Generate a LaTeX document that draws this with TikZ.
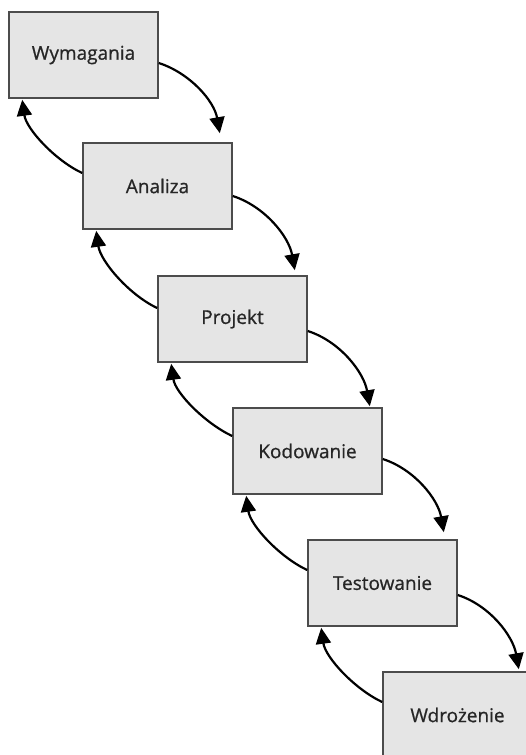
\documentclass[tikz,border=0pt]{standalone}
\usepackage{fontspec}
\newfontfamily\phasefont[FakeBold=0.8]{Open Sans}
\usetikzlibrary{arrows.meta}

\begin{document}
\begin{tikzpicture}[x=1pt,y=1pt]
\tikzset{phase/.style = {shape=rectangle,draw=black!70,fill=black!10,line width=1.6pt,
  minimum width=149pt,minimum height=86pt,inner sep=0pt,text=black!85,font=\phasefont\fontsize{19}{21}\selectfont}}
\tikzset{fwd/.style = {-{Triangle[length=16pt,width=15pt]},line width=2.2pt}}
\tikzset{back/.style = {fwd}}
\useasboundingbox (0,0) rectangle (526,-755);
\clip (0,0) rectangle (526,-755);
\node[phase] (w) at (83.5,-55)  {Wymagania};
\node[phase] (a) at (157.5,-186) {Analiza};
\node[phase] (p) at (232.5,-319) {Projekt};
\node[phase] (k) at (307.5,-451) {Kodowanie};
\node[phase] (t) at (382.5,-583) {Testowanie};
\node[phase] (d) at (457.5,-715) {Wdrożenie};

% kolejne etapy
\draw[fwd] ([yshift=-8pt]w.east) to[out=-18,in=100,looseness=0.9] ([xshift=-13pt,yshift=9pt]a.north east);
\draw[fwd] ([yshift=-10pt]a.east) to[out=-18,in=100,looseness=0.9] ([xshift=-13pt,yshift=5pt]p.north east);
\draw[fwd] ([yshift=-12pt]p.east) to[out=-18,in=100,looseness=0.9] ([xshift=-13pt,yshift=1pt]k.north east);
\draw[fwd] ([yshift=-8pt]k.east) to[out=-18,in=100,looseness=0.9] ([xshift=-14pt,yshift=7pt]t.north east);
\draw[fwd] ([yshift=-12pt]t.east) to[out=-18,in=100,looseness=0.9] ([xshift=-14pt,yshift=2pt]d.north east);

% powroty
\draw[back] ([yshift=13pt]a.west) to[out=155,in=-82,looseness=0.8] ([xshift=14pt,yshift=-1pt]w.south west);
\draw[back] ([yshift=11pt]p.west) to[out=155,in=-82,looseness=0.8] ([xshift=14pt,yshift=-1pt]a.south west);
\draw[back] ([yshift=15pt]k.west) to[out=155,in=-82,looseness=0.8] ([xshift=14pt,yshift=-1pt]p.south west);
\draw[back] ([yshift=13pt]t.west) to[out=155,in=-82,looseness=0.8] ([xshift=14pt,yshift=-1pt]k.south west);
\draw[back] ([yshift=13pt]d.west) to[out=155,in=-82,looseness=0.8] ([xshift=14pt,yshift=-1pt]t.south west);
\end{tikzpicture}
\end{document}
